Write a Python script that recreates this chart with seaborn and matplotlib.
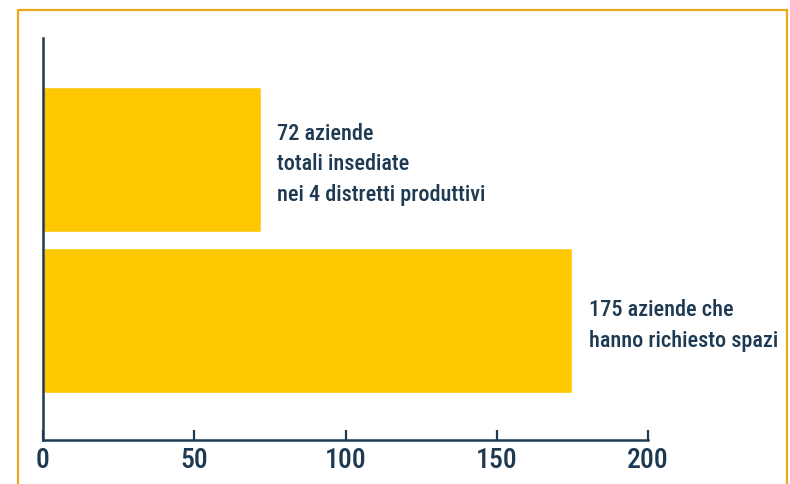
import matplotlib
matplotlib.use("Agg")
import matplotlib.pyplot as plt
import seaborn as sns
import pandas as pd
from matplotlib.patches import Rectangle

# data
labels = [
    "72 aziende\ntotali insediate\nnei 4 distretti produttivi",
    "175 aziende che\nhanno richiesto spazi",
]
values = [72, 175]
xticks = [0, 50, 100, 150, 200]

navy = "#1d3a52"
yellow = "#fdc800"
orange = "#e8a91c"

sns.set_theme(style="white")
plt.rcParams["font.family"] = ["Roboto Condensed", "Roboto", "DejaVu Sans"]

df = pd.DataFrame({"label": labels, "value": values})

fig = plt.figure(figsize=(7.9, 4.84), dpi=100)
ax = fig.add_axes([0.0544, 0.091, 0.766, 0.83])

sns.barplot(data=df, x="value", y="label", orient="h", color=yellow,
            width=0.9, saturation=1, ax=ax)

for i, (lab, val) in enumerate(zip(labels, values)):
    ax.text(val + 5.5, i + 0.03, lab, va="center", ha="left", fontsize=16,
            fontweight="medium", color=navy, linespacing=1.5)

ax.set_xlim(0, 200)
ax.set_ylim(1.74, -0.75)
ax.set_xticks(xticks)
ax.set_xticklabels([str(t) for t in xticks], fontsize=20,
                   fontweight="medium", color=navy)
ax.set_yticks([])
ax.set_xlabel("")
ax.set_ylabel("")
ax.tick_params(axis="x", bottom=True, direction="in", length=7, width=1.6,
               color=navy, pad=5)

for side in ["top", "right"]:
    ax.spines[side].set_visible(False)
for side in ["left", "bottom"]:
    ax.spines[side].set_color(navy)
    ax.spines[side].set_linewidth(1.8)

# orange frame around the chart
fig.patches.append(Rectangle((18 / 790, -0.1), (787 - 18) / 790, 1.1 - 10 / 484,
                             transform=fig.transFigure, fill=False,
                             edgecolor=orange, linewidth=1.6))

fig.savefig("out.png", dpi=100)
